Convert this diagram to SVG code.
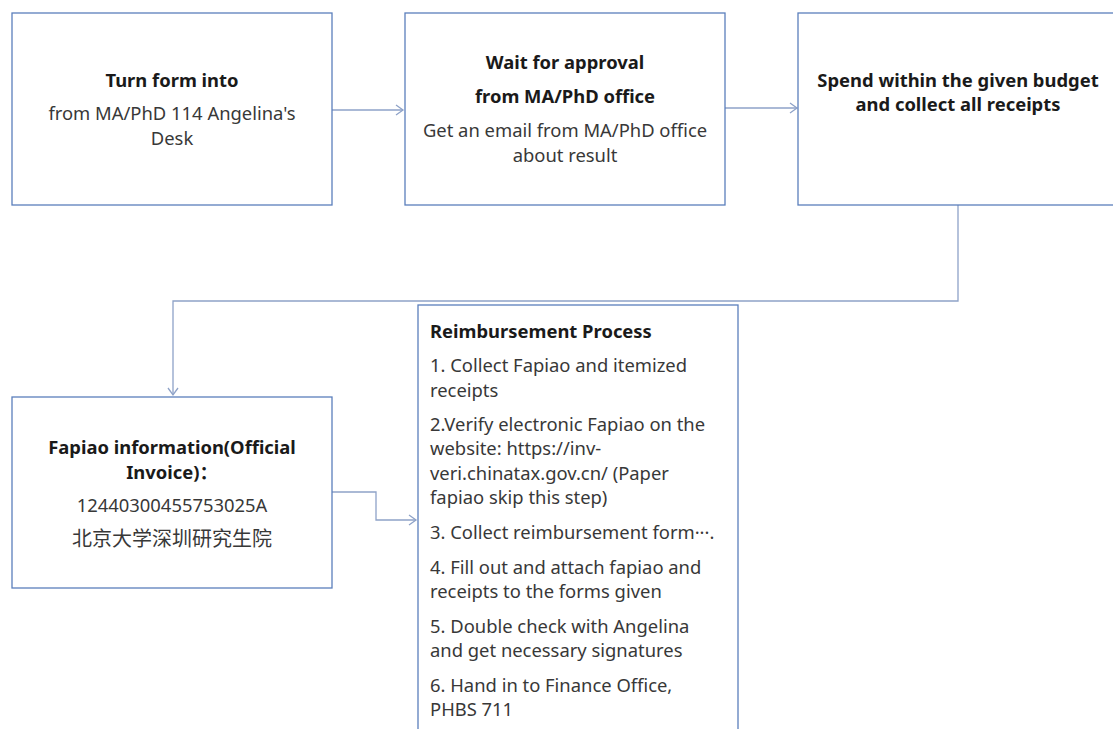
<svg xmlns="http://www.w3.org/2000/svg" width="1113" height="729" viewBox="0 0 1113 729">
<style>
.box{fill:#fff;stroke:#5b7fbc;stroke-width:1.3}
.b{font-family:"Noto Sans","Noto Sans CJK SC",sans-serif;font-weight:bold;font-size:18.4px;fill:#1a1a1a}
.r{font-family:"Noto Sans","Noto Sans CJK SC",sans-serif;font-size:18.4px;fill:#383838}
.cjk{font-size:20px}
.c{text-anchor:middle}
.con{fill:none;stroke:#8ea2c8;stroke-width:1.3}
</style>
<defs>
<marker id="ah" markerWidth="12" markerHeight="12" refX="10" refY="6" orient="auto" markerUnits="userSpaceOnUse">
<path d="M3,1 L10,6 L3,11" fill="none" stroke="#8ea2c8" stroke-width="1.3"/>
</marker>
</defs>
<rect width="1113" height="729" fill="#fff"/>
<g id="connectors">
<path class="con" d="M332,110 H403" marker-end="url(#ah)"/>
<path class="con" d="M725,108 H797" marker-end="url(#ah)"/>
<path class="con" d="M958,205 V301 H173 V395" marker-end="url(#ah)"/>
<path class="con" d="M332,492 H376 V520 H416" marker-end="url(#ah)"/>
</g>
<g id="n1">
<rect class="box" x="12" y="13" width="320" height="192"/>
<text class="b c" x="172" y="87">Turn form into</text>
<text class="r c" x="172" y="120">from MA/PhD 114 Angelina's</text>
<text class="r c" x="172" y="145">Desk</text>
</g>
<g id="n2">
<rect class="box" x="405" y="13" width="320" height="192"/>
<text class="b c" x="565" y="69">Wait for approval</text>
<text class="b c" x="565" y="103">from MA/PhD office</text>
<text class="r c" x="565" y="137">Get an email from MA/PhD office</text>
<text class="r c" x="565" y="162">about result</text>
</g>
<g id="n3">
<rect class="box" x="798" y="13" width="330" height="192"/>
<text class="b c" x="958" y="87">Spend within the given budget</text>
<text class="b c" x="958" y="111">and collect all receipts</text>
</g>
<g id="n4">
<rect class="box" x="12" y="397" width="320" height="191"/>
<text class="b c" x="172" y="454">Fapiao information(Official</text>
<text class="b c" x="172" y="479">Invoice)：</text>
<text class="r c" x="172" y="512">12440300455753025A</text>
<text class="r cjk c" x="172" y="546">北京大学深圳研究生院</text>
</g>
<g id="n5">
<rect class="box" x="418" y="305" width="320" height="440"/>
<text class="b" x="430" y="338">Reimbursement Process</text>
<text class="r" x="430" y="372">1. Collect Fapiao and itemized</text>
<text class="r" x="430" y="397">receipts</text>
<text class="r" x="430" y="431">2.Verify electronic Fapiao on the</text>
<text class="r" x="430" y="455">website: https://inv-</text>
<text class="r" x="430" y="480">veri.chinatax.gov.cn/ (Paper</text>
<text class="r" x="430" y="504">fapiao skip this step)</text>
<text class="r" x="430" y="539">3. Collect reimbursement form···.</text>
<text class="r" x="430" y="574">4. Fill out and attach fapiao and</text>
<text class="r" x="430" y="598">receipts to the forms given</text>
<text class="r" x="430" y="633">5. Double check with Angelina</text>
<text class="r" x="430" y="657">and get necessary signatures</text>
<text class="r" x="430" y="692">6. Hand in to Finance Office,</text>
<text class="r" x="430" y="716">PHBS 711</text>
</g>
</svg>
